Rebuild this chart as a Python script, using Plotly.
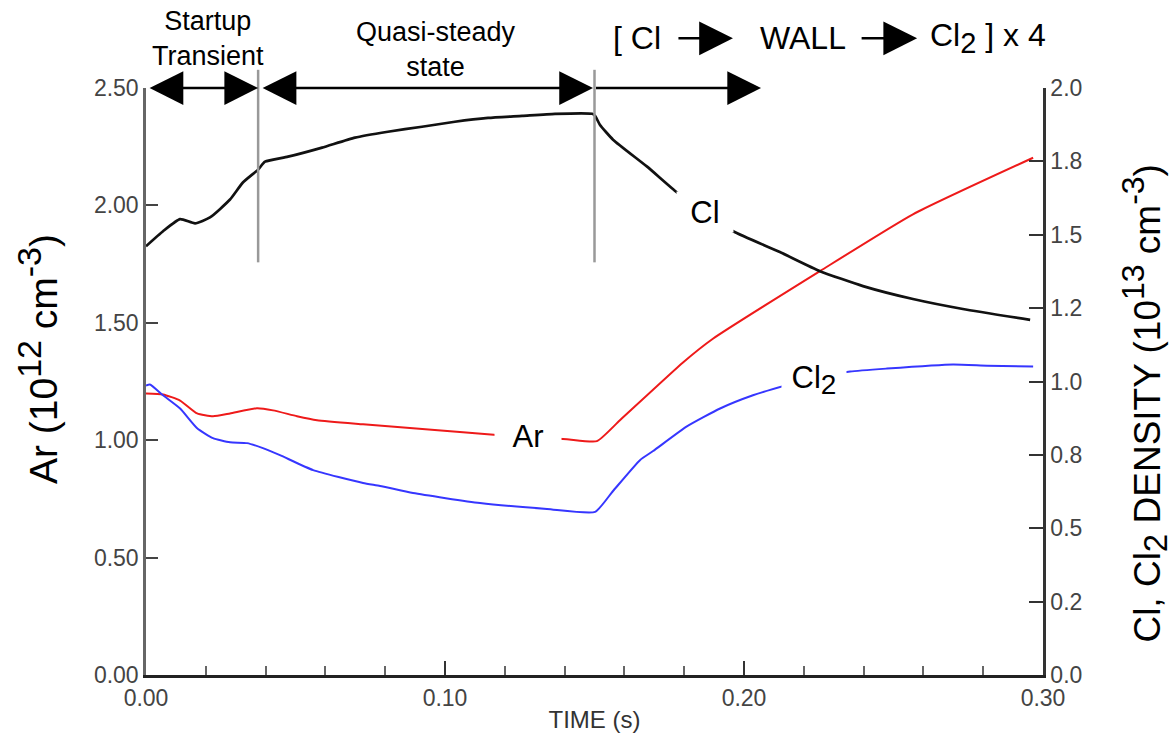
import plotly.graph_objects as go

# ---- data ----
t_ar = [0.0000, 0.0057, 0.0114, 0.0171, 0.0224, 0.0281, 0.0371, 0.0425, 0.0505, 0.0572,
        0.0726, 0.0893, 0.1060, 0.1184, 0.1301, 0.1408, 0.1508, 0.1585, 0.1796, 0.1896,
        0.2254, 0.2565, 0.2967]
ar = [1.199, 1.195, 1.169, 1.114, 1.102, 1.114, 1.136, 1.127, 1.102, 1.085,
      1.068, 1.051, 1.034, 1.021, 1.013, 1.004, 0.996, 1.085, 1.331, 1.432,
      1.720, 1.962, 2.203]

t_cl = [0.0000, 0.0057, 0.0114, 0.0164, 0.0214, 0.0281, 0.0324, 0.0375, 0.0398, 0.0475,
        0.0589, 0.0699, 0.0809, 0.0923, 0.1033, 0.1144, 0.1258, 0.1368, 0.1492, 0.1502,
        0.1518, 0.1562, 0.1676, 0.1776, 0.1870, 0.1964, 0.2120, 0.2254, 0.2398, 0.2565,
        0.2732, 0.2957]
cl = [1.461, 1.512, 1.553, 1.539, 1.559, 1.620, 1.678, 1.722, 1.749, 1.766,
      1.797, 1.831, 1.851, 1.868, 1.885, 1.898, 1.905, 1.912, 1.912, 1.905,
      1.875, 1.824, 1.732, 1.644, 1.576, 1.512, 1.441, 1.376, 1.325, 1.281,
      1.247, 1.210]

t_cl2 = [0.0000, 0.0013, 0.0057, 0.0114, 0.0171, 0.0224, 0.0281, 0.0338, 0.0391, 0.0448,
         0.0559, 0.0726, 0.0783, 0.0893, 0.1117, 0.1341, 0.1502, 0.1562, 0.1652, 0.1696,
         0.1809, 0.1920, 0.2030, 0.2137, 0.2247, 0.2355, 0.2478, 0.2699, 0.2813, 0.2967]
cl2 = [0.986, 0.990, 0.953, 0.908, 0.841, 0.807, 0.793, 0.790, 0.773, 0.749,
       0.698, 0.654, 0.644, 0.620, 0.586, 0.566, 0.556, 0.627, 0.732, 0.763,
       0.847, 0.908, 0.953, 0.986, 1.015, 1.034, 1.044, 1.058, 1.054, 1.051]

x_ticks = [0.0, 0.1, 0.2, 0.3]
x_ticktext = ["0.00", "0.10", "0.20", "0.30"]
x_minor_ticks = [0.02, 0.04, 0.06, 0.08, 0.12, 0.14, 0.16, 0.18, 0.22, 0.24, 0.26, 0.28]
y_ticks = [0.0, 0.5, 1.0, 1.5, 2.0, 2.5]
y_ticktext = ["0.00", "0.50", "1.00", "1.50", "2.00", "2.50"]
y2_ticks = [0.0, 0.25, 0.5, 0.75, 1.0, 1.25, 1.5, 1.75, 2.0]
y2_ticktext = ["0.0", "0.2", "0.5", "0.8", "1.0", "1.2", "1.5", "1.8", "2.0"]

# phase boundaries (s)
t_startup_end = 0.0375
t_switch = 0.15
t_phase3_end = 0.2057

FONT = "Liberation Sans, Arial, Helvetica, sans-serif"

fig = go.Figure()
fig.add_trace(go.Scatter(x=t_cl, y=cl, yaxis="y2", mode="lines",
                         line=dict(color="#111111", width=2.7, shape="spline", smoothing=0.5),
                         name="Cl", cliponaxis=False))
fig.add_trace(go.Scatter(x=t_cl2, y=cl2, yaxis="y2", mode="lines",
                         line=dict(color="#3636ff", width=2, shape="spline", smoothing=0.5),
                         name="Cl2", cliponaxis=False))
fig.add_trace(go.Scatter(x=t_ar, y=ar, mode="lines",
                         line=dict(color="#ee1a1a", width=2, shape="spline", smoothing=0.5),
                         name="Ar", cliponaxis=False))

# vertical phase markers
for tv in [t_startup_end, t_switch]:
    fig.add_shape(type="line", xref="x", yref="paper", x0=tv, x1=tv, y0=0.703, y1=1.031,
                  line=dict(color="#999999", width=2.5), layer="above")

annos = []
# phase arrows at top of plot
arrow_common = dict(xref="x", yref="y", axref="x", ayref="y", text="", showarrow=True,
                    arrowcolor="black", arrowwidth=2.5, arrowsize=2.7, startarrowsize=2.7,
                    arrowhead=2, startarrowhead=2, standoff=0, startstandoff=0)
annos.append(dict(x=t_startup_end, y=2.5, ax=0.0007, ay=2.5, arrowside="end+start", **arrow_common))
annos.append(dict(x=0.1495, y=2.5, ax=0.0385, ay=2.5, arrowside="end+start", **arrow_common))
annos.append(dict(x=t_phase3_end, y=2.5, ax=t_switch, ay=2.5, arrowside="end", **arrow_common))

# header arrows
hdr_arrow = dict(xref="x", yref="paper", axref="pixel", ayref="pixel", text="", showarrow=True,
                 arrowcolor="black", arrowwidth=2.5, arrowsize=2.7, arrowhead=2, standoff=0)
annos.append(dict(x=0.1963, y=1.0847, ax=-56, ay=0, **hdr_arrow))
annos.append(dict(x=0.2579, y=1.0847, ax=-57, ay=0, **hdr_arrow))

hdr_font = dict(family=FONT, size=32, color="black")
annos.append(dict(x=0.1642, y=1.0847, xref="x", yref="paper", text="[ Cl", showarrow=False,
                  font=hdr_font, xanchor="center", yanchor="middle"))
annos.append(dict(x=0.2197, y=1.0847, xref="x", yref="paper", text="WALL", showarrow=False,
                  font=hdr_font, xanchor="center", yanchor="middle"))
annos.append(dict(x=0.2615, y=1.0847, xref="x", yref="paper",
                  text='Cl<sub><span style="font-size:29px">2</span></sub> ] x 4', showarrow=False,
                  font=hdr_font, xanchor="left", yanchor="middle"))

sub_font = dict(family=FONT, size=27, color="black")
annos.append(dict(x=0.0207, y=1.085, xref="x", yref="paper", text="Startup<br>Transient",
                  showarrow=False, font=sub_font, xanchor="center", yanchor="middle"))
annos.append(dict(x=0.0970, y=1.066, xref="x", yref="paper", text="Quasi-steady<br>state",
                  showarrow=False, font=sub_font, xanchor="center", yanchor="middle"))

# in-plot curve labels with white boxes
lab_font = dict(family=FONT, size=31, color="black")
annos.append(dict(x=0.1277, y=1.016, xref="x", yref="y", text="Ar", showarrow=False,
                  font=lab_font, bgcolor="white", width=64, height=40, xanchor="center", yanchor="middle"))
annos.append(dict(x=0.1869, y=1.576, xref="x", yref="y2", text="Cl", showarrow=False,
                  font=lab_font, bgcolor="white", width=54, height=38, xanchor="center", yanchor="middle"))
annos.append(dict(x=0.2235, y=1.005, xref="x", yref="y2",
                  text='Cl<sub><span style="font-size:28px">2</span></sub>', showarrow=False,
                  font=lab_font, bgcolor="white", width=62, height=40, xanchor="center", yanchor="middle"))

# axis titles (placed as rotated annotations to match the reference positions)
title_font = dict(family=FONT, size=39, color="black")
annos.append(dict(x=-0.121, y=0.539, xref="paper", yref="paper", textangle=-90, showarrow=False,
                  text='Ar (10<sup><span style="font-size:34px">12</span></sup> cm<sup><span style="font-size:34px">-3</span></sup>)',
                  font=title_font, xanchor="center", yanchor="middle"))
annos.append(dict(x=1.113, y=0.463, xref="paper", yref="paper", textangle=-90, showarrow=False,
                  text='Cl, Cl<sub><span style="font-size:33px">2</span></sub> DENSITY (10<sup><span style="font-size:32px">13</span></sup> cm<sup><span style="font-size:32px">-3</span></sup>)',
                  font=dict(family=FONT, size=37, color="black"), xanchor="center", yanchor="middle"))

tick_font = dict(family=FONT, size=23, color="#444444")

fig.update_layout(
    width=1175, height=741,
    margin=dict(l=146, r=132, t=88, b=63),
    paper_bgcolor="white", plot_bgcolor="white",
    showlegend=False,
    annotations=annos,
    xaxis=dict(range=[0, 0.3], tickmode="array", tickvals=x_ticks, ticktext=x_ticktext,
               ticks="inside", ticklen=14, tickwidth=2, tickcolor="#333333",
               minor=dict(tickmode="array", tickvals=x_minor_ticks, ticks="inside", ticklen=9,
                          tickwidth=1.5, tickcolor="#666666"),
               showline=True, linecolor="#222222", linewidth=3, showgrid=False, zeroline=False,
               tickfont=tick_font,
               title=dict(text="TIME (s)", font=dict(family=FONT, size=24, color="#333333"), standoff=2)),
    yaxis=dict(range=[0, 2.5], tickmode="array", tickvals=y_ticks, ticktext=y_ticktext,
               ticks="inside", ticklen=12, tickwidth=2, tickcolor="#444444",
               showline=True, linecolor="#666666", linewidth=2.5, showgrid=False, zeroline=False,
               tickfont=tick_font),
    yaxis2=dict(range=[0, 2.0], overlaying="y", side="right", tickmode="array",
                tickvals=y2_ticks, ticktext=y2_ticktext,
                ticks="inside", ticklen=14, tickwidth=2, tickcolor="#333333",
                showline=True, linecolor="#333333", linewidth=2.5, showgrid=False, zeroline=False,
                tickfont=tick_font),
)

fig.write_html("out.html")
